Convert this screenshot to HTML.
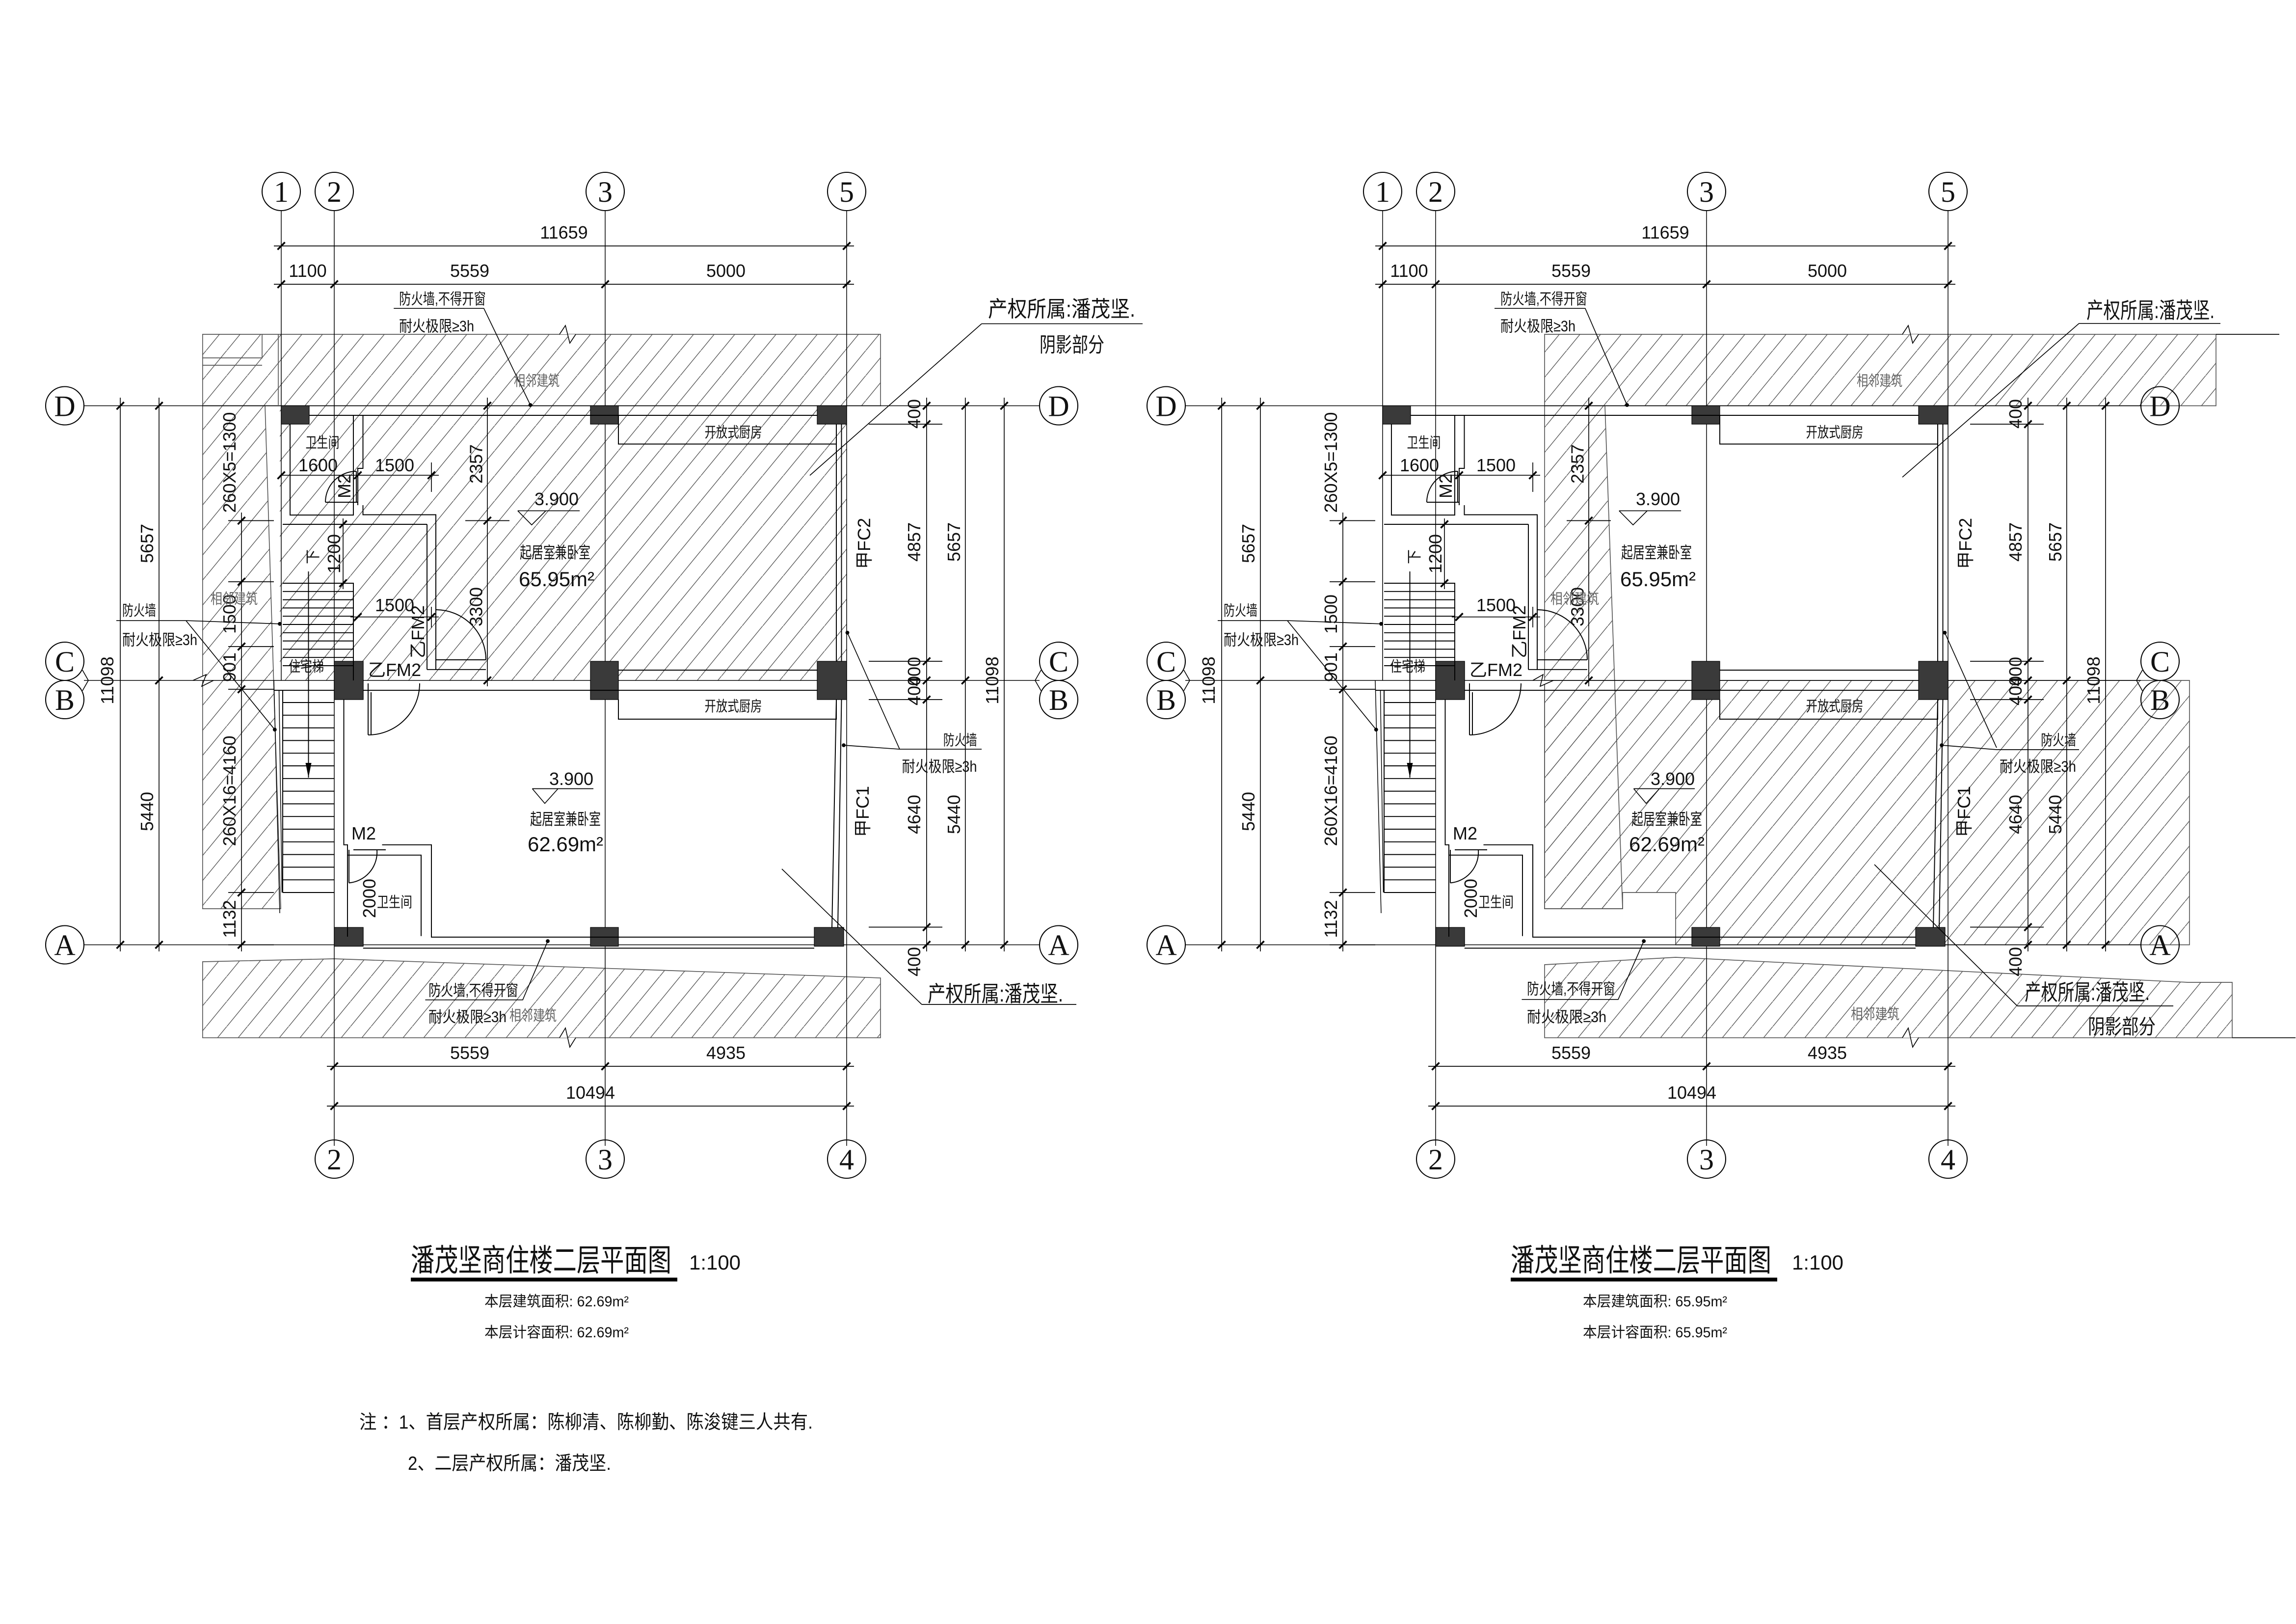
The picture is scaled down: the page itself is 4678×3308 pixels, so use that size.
<!DOCTYPE html>
<html><head><meta charset="utf-8"><style>
html,body{margin:0;padding:0;background:#fff;}
svg{display:block;}
text{font-family:"Liberation Sans","Noto Sans CJK SC",sans-serif;fill:#111;}
.n{font-family:"Liberation Sans Narrow","Liberation Sans",sans-serif;font-size:12px;}
.b{font-family:"Liberation Serif",serif;font-size:20px;text-anchor:middle;}
.c{font-size:10px;}
.g{fill:#666;font-size:10px;}
</style></head><body>
<svg xmlns="http://www.w3.org/2000/svg" xmlns:xlink="http://www.w3.org/1999/xlink" width="4678" height="3308" viewBox="0 0 1559.33 1102.67">
<defs>
<pattern id="h" patternUnits="userSpaceOnUse" width="14" height="17">
<path d="M-4,21.9 L18,-4.9" stroke="#555" stroke-width="0.45" fill="none"/>
</pattern>
<g id="S" fill="none" stroke="#000" stroke-width="0.55">
<!-- axis lines -->
<path d="M191,143V462 M227,143V778 M411,143V778 M575,143V778 M57,275.5H706 M57,462H706 M57,641.5H706" stroke-width="0.5"/>
<!-- bubbles -->
<g stroke-width="0.7">
<circle cx="191" cy="130" r="13"/><circle cx="227" cy="130" r="13"/><circle cx="411" cy="130" r="13"/><circle cx="575" cy="130" r="13"/>
<circle cx="227" cy="787" r="13"/><circle cx="411" cy="787" r="13"/><circle cx="575" cy="787" r="13"/>
<circle cx="44" cy="275.5" r="13"/><circle cx="44" cy="449" r="13"/><circle cx="44" cy="475" r="13"/><circle cx="44" cy="641.5" r="13"/>
<circle cx="719" cy="275.5" r="13"/><circle cx="719" cy="449" r="13"/><circle cx="719" cy="475" r="13"/><circle cx="719" cy="641.5" r="13"/>
</g>
<path d="M56,455L60,462L56,469 M707,455L703,462L707,469"/>
<!-- dim lines -->
<path d="M186,167H580 M186,193H580 M222,724H580 M222,751H580 M81.7,270V646 M108,270V646 M629.3,270V646 M655.6,270V646 M682,270V646 M164,348V646 M331,270V466 M233,352V400 M190,322.7H298 M238,418.9H298"/>
<path d="M590,288H640 M590,449H640 M590,475H640 M590,629.5H640 M155,353.5H186 M155,395H186 M155,439H186 M155,468H186 M155,606H186 M155,641.5H186 M316,353.5H346 M293,314V334 M293,412V426"/>
<path stroke-width="1.2" d="M188.5,169.5l5,-5 M572.5,169.5l5,-5 M188.5,195.5l5,-5 M224.5,195.5l5,-5 M408.5,195.5l5,-5 M572.5,195.5l5,-5 M224.5,726.5l5,-5 M408.5,726.5l5,-5 M572.5,726.5l5,-5 M224.5,753.5l5,-5 M572.5,753.5l5,-5
M79.2,278l5,-5 M79.2,644l5,-5 M105.5,278l5,-5 M105.5,464.5l5,-5 M105.5,644l5,-5
M626.8,278l5,-5 M626.8,290.5l5,-5 M626.8,451.5l5,-5 M626.8,464.5l5,-5 M626.8,477.5l5,-5 M626.8,632l5,-5 M626.8,644l5,-5
M653.1,278l5,-5 M653.1,464.5l5,-5 M653.1,644l5,-5 M679.5,278l5,-5 M679.5,644l5,-5
M161.5,356l5,-5 M161.5,397.5l5,-5 M161.5,441.5l5,-5 M161.5,470.5l5,-5 M161.5,608.5l5,-5 M161.5,644l5,-5
M328.5,278l5,-5 M328.5,356l5,-5 M328.5,464.5l5,-5 M230.5,358.5l5,-5 M230.5,398.5l5,-5
M188.5,325.2l5,-5 M240.5,325.2l5,-5 M290.5,325.2l5,-5 M240.5,421.4l5,-5 M290.5,421.4l5,-5"/>
<!-- columns -->
<g fill="#3a3a3a" stroke="#000" stroke-width="0.4">
<rect x="191" y="275.5" width="19" height="12.5"/><rect x="401" y="275.5" width="19" height="12.5"/><rect x="555" y="275.5" width="20" height="12.5"/>
<rect x="227" y="449" width="19.7" height="26"/><rect x="401" y="449" width="19" height="26"/><rect x="555" y="449" width="20" height="26"/>
<rect x="227" y="629.7" width="19.7" height="12.8"/><rect x="401" y="629.7" width="19" height="12.8"/><rect x="553" y="629.7" width="20" height="12.8"/>
</g>
<!-- walls -->
<g stroke-width="0.65">
<path d="M210,282H555 M420,282V301.5H568V288 M420,475V488.3H568V475"/>
<path d="M197,288V349.7H240V282 M246.5,282V318H243V343 M246.5,343V349.5H296V454.6 M290,356V454.6 M192,356H290 M290,454.6H330 M296,448H330"/>
<path d="M186,468.7H227 M246.6,468.7H555 M420,455H555"/>
<path d="M233.5,475V573.6H236V636 M236,580.6H286V635.6 M259.5,573.6H293V636.3H553 M246.6,643.8H553"/>
<path d="M250,464V499 M252,470V499 M250,499A35,35 0 0 0 285,464"/>
<path d="M237,577V599.5 M237,599.5A21,21 0 0 0 256,577 M240,577H262"/>
<path d="M242,320V341 M221,341A21,21 0 0 1 242,320 M221,341H243"/>
<path d="M296,414A34,34 0 0 1 330,448"/>
<path d="M568,288V449 M571.5,288V449 M568,475L565,630 M571.5,475L569,630"/>
<!-- stairs upper -->
<path d="M192,396H240V462 M192,401.6H240 M192,407.2H240 M192,412.8H240 M192,418.4H240 M192,424H240 M192,429.6H240 M192,435.2H240 M192,440.8H240 M192,446.4H240 M192,452H240"/>
<!-- stairs lower -->
<path d="M192,468.7V606 M192,477H227 M192,485.6H227 M192,494.2H227 M192,502.8H227 M192,511.4H227 M192,520H227 M192,528.6H227 M192,537.2H227 M192,545.8H227 M192,554.4H227 M192,563H227 M192,571.6H227 M192,580.2H227 M192,588.8H227 M192,597.4H227 M192,606H227"/>
<path d="M186,462L190,620 M189.5,468.7L191.5,606" stroke-width="0.5"/>
<path d="M209.5,388V528"/>
</g>
<polygon points="207.5,518 211.5,518 209.5,528" fill="#000" stroke="none"/>
<!-- elevation marks -->
<path d="M351.6,346.8H393.7 M351.6,346.8L361.1,356.4L370.7,346.8 M361.5,535.5H403 M361.5,535.5L370,545.5L379,535.5"/>
</g>
</defs>

<rect width="1559.33" height="1102.67" fill="#fff"/>

<!-- LEFT PLAN HATCH -->
<g fill="url(#h)" stroke="#555" stroke-width="0.55">
<path d="M137.6,227H598V275.5H137.6Z"/>
<path d="M137.6,275.5H180L190.7,617H137.6Z"/>
<path d="M190,275.5H575V462H190Z" stroke="none"/>
<path d="M137.6,653L227,651L598,664V704.6H137.6Z"/>
</g>
<path d="M178,227V243H137.6 M137.6,248H178 M189,227V275" stroke="#555" stroke-width="0.55" fill="none"/>
<path d="M380,227L384,221L387,233L391,227 M380,704.6L384,698L387,711L391,704.6 M131,462L140,458L137,466L145,462" stroke="#000" stroke-width="0.55" fill="#fff"/>

<!-- RIGHT PLAN HATCH -->
<g fill="url(#h)" stroke="#555" stroke-width="0.55">
<path d="M1049,227H1505V275.5H1049Z"/>
<path d="M1049,275.5H1090L1102,617H1049Z"/>
<path d="M1049,462H1487V641.5H1138V606H1102V617H1049Z"/>
<path d="M1049,655L1138,650L1486,667L1516,667V704.6H1049Z"/>
</g>
<path d="M1505,227H1548 M1516,704.6H1559" stroke="#000" stroke-width="0.55"/>
<path d="M1292,227L1296,221L1299,233L1303,227 M1292,704.6L1296,698L1299,711L1303,704.6 M1041,462L1048,458L1046,466L1055,462" stroke="#000" stroke-width="0.55" fill="#fff"/>

<use xlink:href="#S" href="#S"/>
<use xlink:href="#S" href="#S" x="748"/>

<!-- LEFT annotation leaders -->
<g stroke="#000" stroke-width="0.55" fill="none">
<path d="M267.4,209.4H328.6L360.2,275"/>
<path d="M79,421.4H127L190,423.6 M126.3,421.4L186.6,495.4"/>
<path d="M611,508.7H666.7 M611,508.7L575.5,429.6 M611,508.7L573,506"/>
<path d="M666.7,219.8H776 M666.7,219.8L550,322.8"/>
<path d="M626,682H731 M626,682L531,590"/>
<path d="M288.8,678.9H355L372,639"/>
</g>
<g fill="#000"><circle cx="360.2" cy="275" r="1.3"/><circle cx="190" cy="423.6" r="1.3"/><circle cx="186.6" cy="495.4" r="1.3"/><circle cx="575.5" cy="429.6" r="1.3"/><circle cx="573" cy="506" r="1.3"/><circle cx="372" cy="639" r="1.3"/></g>

<!-- RIGHT annotation leaders -->
<g stroke="#000" stroke-width="0.55" fill="none">
<path d="M1015,209.4H1076.6L1105,275"/>
<path d="M827,421.4H875L938,423.6 M874.3,421.4L934.6,495.4"/>
<path d="M1356,509H1412 M1356,509L1318.7,506 M1356,507.7L1320.8,429.6"/>
<path d="M1412,219.6H1508 M1412,219.6L1292,324"/>
<path d="M1370,683H1476 M1370,683L1273,587"/>
<path d="M1033.5,678.6H1099L1116.4,639"/>
</g>
<g fill="#000"><circle cx="1105" cy="275" r="1.3"/><circle cx="938" cy="423.6" r="1.3"/><circle cx="934.6" cy="495.4" r="1.3"/><circle cx="1318.7" cy="506" r="1.3"/><circle cx="1320.8" cy="429.6" r="1.3"/><circle cx="1116.4" cy="639" r="1.3"/></g>

<!-- LEFT TEXT -->
<g id="TL">
<text class="b" x="191" y="137">1</text><text class="b" x="227" y="137">2</text><text class="b" x="411" y="137">3</text><text class="b" x="575" y="137">5</text>
<text class="b" x="227" y="794">2</text><text class="b" x="411" y="794">3</text><text class="b" x="575" y="794">4</text>
<text class="b" x="44" y="282.5">D</text><text class="b" x="44" y="456">C</text><text class="b" x="44" y="482">B</text><text class="b" x="44" y="648.5">A</text>
<text class="b" x="719" y="282.5">D</text><text class="b" x="719" y="456">C</text><text class="b" x="719" y="482">B</text><text class="b" x="719" y="648.5">A</text>
<g class="n" text-anchor="middle">
<text x="383" y="162">11659</text><text x="209" y="188">1100</text><text x="319" y="188">5559</text><text x="493" y="188">5000</text>
<text x="319" y="719">5559</text><text x="493" y="719">4935</text><text x="401" y="746">10494</text>
<text transform="translate(77,462) rotate(-90)">11098</text>
<text transform="translate(104,369) rotate(-90)">5657</text><text transform="translate(104,551) rotate(-90)">5440</text>
<text transform="translate(625,281) rotate(-90)">400</text><text transform="translate(625,368) rotate(-90)">4857</text>
<text transform="translate(625,456) rotate(-90)">400</text><text transform="translate(625,469) rotate(-90)">400</text>
<text transform="translate(625,553) rotate(-90)">4640</text><text transform="translate(625,653) rotate(-90)">400</text>
<text transform="translate(652,368) rotate(-90)">5657</text><text transform="translate(652,553) rotate(-90)">5440</text>
<text transform="translate(678,462) rotate(-90)">11098</text>
<text transform="translate(160,314) rotate(-90)">260X5=1300</text>
<text transform="translate(160,417) rotate(-90)">1500</text>
<text transform="translate(160,453) rotate(-90)">901</text>
<text transform="translate(160,537) rotate(-90)">260X16=4160</text>
<text transform="translate(160,624) rotate(-90)">1132</text>
<text transform="translate(327.5,315) rotate(-90)">2357</text>
<text transform="translate(327.5,412) rotate(-90)">3300</text>
<text transform="translate(231,376) rotate(-90)">1200</text>
<text transform="translate(238,330) rotate(-90)">M2</text>
<text transform="translate(288,429) rotate(-90)">乙FM2</text>
<text transform="translate(255,610) rotate(-90)">2000</text>
<text transform="translate(591,369) rotate(-90)">甲FC2</text>
<text transform="translate(590,551) rotate(-90)">甲FC1</text>
<text x="216" y="320">1600</text><text x="268" y="320">1500</text><text x="268" y="415">1500</text>
<text x="268" y="459">乙FM2</text><text x="247" y="570">M2</text>
<text x="378" y="343">3.900</text><text x="388" y="533">3.900</text>
<text x="378" y="398" style="font-size:14px">65.95m²</text>
<text x="384" y="578" style="font-size:14px">62.69m²</text>
</g>
<g class="c" text-anchor="middle">
<text x="219" y="304" textLength="23" lengthAdjust="spacingAndGlyphs">卫生间</text>
<text x="268" y="616" textLength="24" lengthAdjust="spacingAndGlyphs">卫生间</text>
<text x="208" y="456" textLength="24" lengthAdjust="spacingAndGlyphs">住宅梯</text>
<text x="498" y="297" textLength="39" lengthAdjust="spacingAndGlyphs">开放式厨房</text>
<text x="498" y="483" textLength="39" lengthAdjust="spacingAndGlyphs">开放式厨房</text>
<text x="377" y="379" style="font-size:11px" textLength="48" lengthAdjust="spacingAndGlyphs">起居室兼卧室</text>
<text x="384" y="560" style="font-size:11px" textLength="48" lengthAdjust="spacingAndGlyphs">起居室兼卧室</text>
<text transform="translate(216,378) rotate(-90)">下</text>
</g>
</g>
<g class="c">
<text x="271" y="206.5" style="font-size:10.5px" textLength="59" lengthAdjust="spacingAndGlyphs">防火墙,不得开窗</text>
<text x="271" y="225" style="font-size:10.5px" textLength="51" lengthAdjust="spacingAndGlyphs">耐火极限≥3h</text>
<text x="83" y="418" textLength="23" lengthAdjust="spacingAndGlyphs">防火墙</text>
<text x="83" y="438" style="font-size:10.5px" textLength="51" lengthAdjust="spacingAndGlyphs">耐火极限≥3h</text>
<text x="640.6" y="506" textLength="23" lengthAdjust="spacingAndGlyphs">防火墙</text>
<text x="612.5" y="524" style="font-size:10.5px" textLength="51" lengthAdjust="spacingAndGlyphs">耐火极限≥3h</text>
<text x="291" y="676" style="font-size:10.5px" textLength="61" lengthAdjust="spacingAndGlyphs">防火墙,不得开窗</text>
<text x="291" y="694" style="font-size:10.5px" textLength="53" lengthAdjust="spacingAndGlyphs">耐火极限≥3h</text>
<text x="671" y="215" style="font-size:15px" textLength="100" lengthAdjust="spacingAndGlyphs">产权所属:潘茂坚.</text>
<text x="706" y="239" style="font-size:14px" textLength="44" lengthAdjust="spacingAndGlyphs">阴影部分</text>
<text x="630" y="680" style="font-size:15px" textLength="92" lengthAdjust="spacingAndGlyphs">产权所属:潘茂坚.</text>
<text class="g" x="349" y="262" textLength="31" lengthAdjust="spacingAndGlyphs">相邻建筑</text>
<text class="g" x="143" y="410" textLength="32" lengthAdjust="spacingAndGlyphs">相邻建筑</text>
<text class="g" x="346" y="693" textLength="32" lengthAdjust="spacingAndGlyphs">相邻建筑</text>
</g>

<!-- RIGHT TEXT -->
<g transform="translate(748,0)">
<text class="b" x="191" y="137">1</text><text class="b" x="227" y="137">2</text><text class="b" x="411" y="137">3</text><text class="b" x="575" y="137">5</text>
<text class="b" x="227" y="794">2</text><text class="b" x="411" y="794">3</text><text class="b" x="575" y="794">4</text>
<text class="b" x="44" y="282.5">D</text><text class="b" x="44" y="456">C</text><text class="b" x="44" y="482">B</text><text class="b" x="44" y="648.5">A</text>
<text class="b" x="719" y="282.5">D</text><text class="b" x="719" y="456">C</text><text class="b" x="719" y="482">B</text><text class="b" x="719" y="648.5">A</text>
<g class="n" text-anchor="middle">
<text x="383" y="162">11659</text><text x="209" y="188">1100</text><text x="319" y="188">5559</text><text x="493" y="188">5000</text>
<text x="319" y="719">5559</text><text x="493" y="719">4935</text><text x="401" y="746">10494</text>
<text transform="translate(77,462) rotate(-90)">11098</text>
<text transform="translate(104,369) rotate(-90)">5657</text><text transform="translate(104,551) rotate(-90)">5440</text>
<text transform="translate(625,281) rotate(-90)">400</text><text transform="translate(625,368) rotate(-90)">4857</text>
<text transform="translate(625,456) rotate(-90)">400</text><text transform="translate(625,469) rotate(-90)">400</text>
<text transform="translate(625,553) rotate(-90)">4640</text><text transform="translate(625,653) rotate(-90)">400</text>
<text transform="translate(652,368) rotate(-90)">5657</text><text transform="translate(652,553) rotate(-90)">5440</text>
<text transform="translate(678,462) rotate(-90)">11098</text>
<text transform="translate(160,314) rotate(-90)">260X5=1300</text>
<text transform="translate(160,417) rotate(-90)">1500</text>
<text transform="translate(160,453) rotate(-90)">901</text>
<text transform="translate(160,537) rotate(-90)">260X16=4160</text>
<text transform="translate(160,624) rotate(-90)">1132</text>
<text transform="translate(327.5,315) rotate(-90)">2357</text>
<text transform="translate(327.5,412) rotate(-90)">3300</text>
<text transform="translate(231,376) rotate(-90)">1200</text>
<text transform="translate(238,330) rotate(-90)">M2</text>
<text transform="translate(288,429) rotate(-90)">乙FM2</text>
<text transform="translate(255,610) rotate(-90)">2000</text>
<text transform="translate(591,369) rotate(-90)">甲FC2</text>
<text transform="translate(590,551) rotate(-90)">甲FC1</text>
<text x="216" y="320">1600</text><text x="268" y="320">1500</text><text x="268" y="415">1500</text>
<text x="268" y="459">乙FM2</text><text x="247" y="570">M2</text>
<text x="378" y="343">3.900</text><text x="388" y="533">3.900</text>
<text x="378" y="398" style="font-size:14px">65.95m²</text>
<text x="384" y="578" style="font-size:14px">62.69m²</text>
</g>
<g class="c" text-anchor="middle">
<text x="219" y="304" textLength="23" lengthAdjust="spacingAndGlyphs">卫生间</text>
<text x="268" y="616" textLength="24" lengthAdjust="spacingAndGlyphs">卫生间</text>
<text x="208" y="456" textLength="24" lengthAdjust="spacingAndGlyphs">住宅梯</text>
<text x="498" y="297" textLength="39" lengthAdjust="spacingAndGlyphs">开放式厨房</text>
<text x="498" y="483" textLength="39" lengthAdjust="spacingAndGlyphs">开放式厨房</text>
<text x="377" y="379" style="font-size:11px" textLength="48" lengthAdjust="spacingAndGlyphs">起居室兼卧室</text>
<text x="384" y="560" style="font-size:11px" textLength="48" lengthAdjust="spacingAndGlyphs">起居室兼卧室</text>
<text transform="translate(216,378) rotate(-90)">下</text>
</g>
</g>
<g class="c">
<text x="1019" y="206.5" style="font-size:10.5px" textLength="59" lengthAdjust="spacingAndGlyphs">防火墙,不得开窗</text>
<text x="1019" y="225" style="font-size:10.5px" textLength="51" lengthAdjust="spacingAndGlyphs">耐火极限≥3h</text>
<text x="831" y="418" textLength="23" lengthAdjust="spacingAndGlyphs">防火墙</text>
<text x="831" y="438" style="font-size:10.5px" textLength="51" lengthAdjust="spacingAndGlyphs">耐火极限≥3h</text>
<text x="1386" y="506" textLength="24" lengthAdjust="spacingAndGlyphs">防火墙</text>
<text x="1358" y="524" style="font-size:10.5px" textLength="52" lengthAdjust="spacingAndGlyphs">耐火极限≥3h</text>
<text x="1037" y="675" style="font-size:10.5px" textLength="60" lengthAdjust="spacingAndGlyphs">防火墙,不得开窗</text>
<text x="1037" y="694" style="font-size:10.5px" textLength="54" lengthAdjust="spacingAndGlyphs">耐火极限≥3h</text>
<text x="1417" y="216" style="font-size:15px" textLength="87" lengthAdjust="spacingAndGlyphs">产权所属:潘茂坚.</text>
<text x="1375" y="679" style="font-size:15px" textLength="85" lengthAdjust="spacingAndGlyphs">产权所属:潘茂坚.</text>
<text x="1418" y="702" style="font-size:14px" textLength="46" lengthAdjust="spacingAndGlyphs">阴影部分</text>
<text class="g" x="1261" y="262" textLength="31" lengthAdjust="spacingAndGlyphs">相邻建筑</text>
<text class="g" x="1053" y="410" textLength="33" lengthAdjust="spacingAndGlyphs">相邻建筑</text>
<text class="g" x="1257" y="692" textLength="33" lengthAdjust="spacingAndGlyphs">相邻建筑</text>
</g>

<!-- TITLES -->
<text x="279" y="863" style="font-size:21px" textLength="177" lengthAdjust="spacingAndGlyphs">潘茂坚商住楼二层平面图</text>
<rect x="279" y="867.5" width="181" height="2.6" fill="#000"/>
<text class="n" x="468" y="862" style="font-size:14px" textLength="35" lengthAdjust="spacingAndGlyphs">1:100</text>
<text x="329" y="887" style="font-size:10px" textLength="98" lengthAdjust="spacingAndGlyphs">本层建筑面积: 62.69m²</text>
<text x="329" y="908" style="font-size:10px" textLength="98" lengthAdjust="spacingAndGlyphs">本层计容面积: 62.69m²</text>
<text x="244" y="970" style="font-size:13px" textLength="308" lengthAdjust="spacingAndGlyphs">注 ：1、首层产权所属：陈柳清、陈柳勤、陈浚键三人共有.</text>
<text x="277" y="998" style="font-size:13px" textLength="138" lengthAdjust="spacingAndGlyphs">2、二层产权所属：潘茂坚.</text>

<text x="1026" y="863" style="font-size:21px" textLength="177" lengthAdjust="spacingAndGlyphs">潘茂坚商住楼二层平面图</text>
<rect x="1026" y="867.5" width="181" height="2.6" fill="#000"/>
<text class="n" x="1217" y="862" style="font-size:14px" textLength="35" lengthAdjust="spacingAndGlyphs">1:100</text>
<text x="1075" y="887" style="font-size:10px" textLength="98" lengthAdjust="spacingAndGlyphs">本层建筑面积: 65.95m²</text>
<text x="1075" y="908" style="font-size:10px" textLength="98" lengthAdjust="spacingAndGlyphs">本层计容面积: 65.95m²</text>
</svg>
</body></html>
